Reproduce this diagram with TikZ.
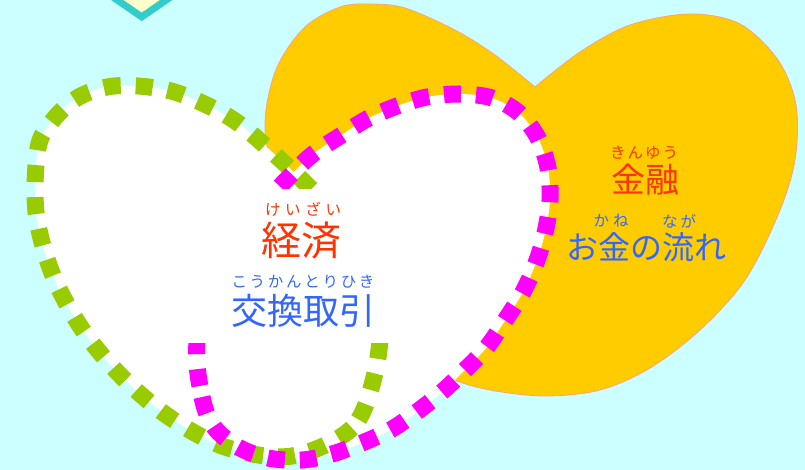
\documentclass[tikz,border=0pt]{standalone}
\usepackage{fontspec}
\newfontfamily\jp{Noto Sans CJK JP}
\definecolor{bgc}{HTML}{CCFFFF}
\definecolor{yel}{HTML}{FFCC00}
\definecolor{yedge}{HTML}{FFA080}
\definecolor{grn}{HTML}{99CC00}
\definecolor{mag}{HTML}{FF00FF}
\definecolor{tealc}{HTML}{33CCCC}
\definecolor{cream}{HTML}{FFFFCC}
\definecolor{redt}{HTML}{FF3300}
\definecolor{bluet}{HTML}{3366FF}
\tikzset{
  dotline/.style={line width=17pt, dash pattern=on 17pt off 15pt},
  bigred/.style={text=redt, inner sep=0pt, font=\jp\fontsize{40}{40}\selectfont},
  bigblue/.style={text=bluet, inner sep=0pt, font=\jp\fontsize{36}{36}\selectfont},
  rubyred/.style={text=redt, inner sep=0pt, font=\jp\fontsize{15.5}{15.5}\selectfont},
  rubyblue/.style={text=bluet, inner sep=0pt, font=\jp\fontsize{15.5}{15.5}\selectfont}
}
\begin{document}
\begin{tikzpicture}[x=1pt,y=-1pt,line join=round]
\useasboundingbox (0,0) rectangle (805,470);
\clip (0,0) rectangle (805,470);
\fill[bgc] (0,0) rectangle (805,470);
% top diamond
\filldraw[fill=cream, draw=tealc, line width=7pt, line join=miter]
  (141.7,16.9) -- (83.9,-23) -- (141.7,-63) -- (199.5,-23) -- cycle;
% yellow heart
\filldraw[fill=yel, draw=yedge, line width=0.8pt]
  plot[smooth, tension=0.55] coordinates {(535,87) (580,52) (630,25) (690,14) (740,24)
  (778,60) (796,105) (795,160) (778,215) (745,280) (700,330) (650,368) (600,390)
  (545,396) (490,390) (450,378) (400,350) (340,290) (290,210) (268,150) (266,110)
  (278,65) (305,27) (340,7) (370,4) (405,8) (455,30) (495,55) (535,87)} -- cycle;
% white fills
\path[fill=white] plot[smooth cycle, tension=0.55] coordinates {
  (375,373) (352,428) (292,456) (228,448) (172,419) (123,378) (82,329) (52,273)
  (36,212) (38,148) (53,120) (77,98) (107,87) (138,86) (171,91) (200,102) (229,117)
  (253,135) (300,178) (340,220) (370,265) (381,310)};
\path[fill=white] plot[smooth cycle, tension=0.55] coordinates {
  (197,343) (202,397) (214,427) (238,447) (268,458) (302,460) (332,454) (362,443)
  (392,429) (418,411) (443,391) (466,369) (487,347) (506,319) (523,292) (536,263)
  (545,233) (550,200) (548,168) (538,138) (519,113) (492,98) (460,94) (427,97)
  (397,106) (367,119) (340,136) (313,154) (290,176) (250,220) (215,275)};
% dotted outlines
\draw[grn, dotline] plot[smooth cycle, tension=0.55] coordinates {
  (375,373) (352,428) (292,456) (228,448) (172,419) (123,378) (82,329) (52,273)
  (36,212) (38,148) (53,120) (77,98) (107,87) (138,86) (171,91) (200,102) (229,117)
  (253,135) (300,178) (340,220) (370,265) (381,310)};
\draw[mag, dotline] plot[smooth cycle, tension=0.55] coordinates {
  (197,343) (202,397) (214,427) (238,447) (268,458) (302,460) (332,454) (362,443)
  (392,429) (418,411) (443,391) (466,369) (487,347) (506,319) (523,292) (536,263)
  (545,233) (550,200) (548,168) (538,138) (519,113) (492,98) (460,94) (427,97)
  (397,106) (367,119) (340,136) (313,154) (290,176) (250,220) (215,275)};
% text panel
\fill[white] (180,189) rectangle (395,343);
% texts
\node[rubyred] (keizaiR) at (303,209) {\makebox[76pt][s]{け\hfill い\hfill ざ\hfill い}};
\node[bigred] (keizai) at (301,240) {経済};
\node[rubyblue] (koukanR) at (303,282) {\makebox[143pt][s]{こ\hfill う\hfill か\hfill ん\hfill と\hfill り\hfill ひ\hfill き}};
\node[bigblue] (koukan) at (303,311) {交換取引};
\node[rubyred] (kinyuR) at (644,153) {\makebox[68pt][s]{き\hfill ん\hfill ゆ\hfill う}};
\node[bigred, font=\jp\fontsize{34}{34}\selectfont] (kinyu) at (645,180) {金融};
\node[rubyblue] (kaneR) at (611,221) {\makebox[35pt][s]{か\hfill ね}};
\node[rubyblue] (nagaR) at (679,221) {\makebox[34pt][s]{な\hfill が}};
\node[bigblue, font=\jp\fontsize{32}{32}\selectfont] (nagare) at (646,247) {お金の流れ};
\end{tikzpicture}
\end{document}
